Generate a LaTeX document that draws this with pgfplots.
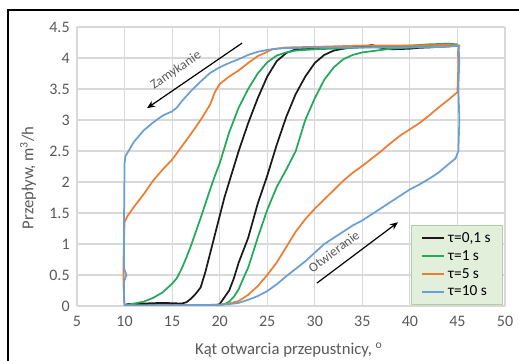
\documentclass[border=0pt]{standalone}
\usepackage{fontspec}
\setmainfont{Carlito}
\usepackage{pgfplots}
\pgfplotsset{compat=1.18}
\usetikzlibrary{arrows.meta}
\definecolor{cblack}{HTML}{1A1A1A}
\definecolor{cgreen}{HTML}{22A95A}
\definecolor{corange}{HTML}{ED7D31}
\definecolor{cblue}{HTML}{6A9FD6}
\definecolor{legfill}{HTML}{E2EFDA}
\definecolor{legdraw}{HTML}{B5CCA8}
\definecolor{ticktext}{HTML}{595959}
\definecolor{gridc}{HTML}{D9D9D9}
\begin{document}
\begin{tikzpicture}
\path[use as bounding box] (-57.75pt,-41.25pt) rectangle (331.5pt,229.5pt);
\draw[line width=0.8pt] (-51.75pt,-41.25pt) -- (-51.75pt,222pt) -- (331.5pt,222pt);
\begin{axis}[
  scale only axis, width=321pt, height=209.25pt,
  xmin=5, xmax=50, ymin=0, ymax=4.5,
  xtick={5,10,15,20,25,30,35,40,45,50},
  ytick={0,0.5,1,1.5,2,2.5,3,3.5,4,4.5},
  yticklabels={0,0.5,1,1.5,2,2.5,3,3.5,4,4.5},
  grid=major, major grid style={draw=gridc, line width=0.8pt},
  axis line style={draw=none}, tick style={draw=none},
  /pgf/number format/assume math mode=true,
  tick label style={font=\fontsize{12}{14}\selectfont, text=ticktext},
  xticklabel style={yshift=-4pt},
  yticklabel style={xshift=-2pt},
  xlabel={Kąt otwarcia przepustnicy, \textsuperscript{o}},
  ylabel={Przepływ, m\textsuperscript{3}/h},
  label style={font=\fontsize{12.5}{14}\selectfont, text=ticktext},
  xlabel style={at={(axis description cs:0.495,0)}, anchor=center, yshift=-33pt},
  ylabel style={at={(axis description cs:0,0.459)}, anchor=center, yshift=36.75pt},
  legend style={at={(axis description cs:0.995,0.004)}, anchor=south east,
    fill=legfill, draw=legdraw, font=\fontsize{11.5}{13}\selectfont,
    inner xsep=7pt, inner ysep=3pt, row sep=0.5pt, cells={anchor=west}},
  legend image code/.code={\draw[#1, line width=1.6pt] (0pt,0pt) -- (17pt,0pt);},
  every axis plot/.append style={line width=1.3pt, mark=none},
]
% tau = 0.1 s
\addplot[cblack] coordinates {
(10,0.01)(14,0.01)(18,0.01)(19.5,0.01)(20,0.03)(21,0.25)(21.5,0.45)(22,0.7)(23,1.1)(24,1.65)(25,2.1)(26,2.6)(27,3.05)(28,3.42)(29,3.7)(30,3.92)(31,4.05)(32,4.12)(33,4.15)(34,4.17)(35,4.18)(36,4.21)(37,4.17)(38,4.15)(40,4.16)(42,4.17)(44,4.19)(45,4.2)
(44,4.2)(42,4.18)(40,4.15)(38,4.14)(36,4.19)(35,4.18)(33,4.17)(30,4.15)(28,4.14)(27,4.08)(26,3.95)(25,3.7)(24,3.35)(23,2.95)(22,2.5)(21.5,2.25)(21,2.0)(20.5,1.75)(20,1.45)(19.5,1.15)(19,0.85)(18.5,0.55)(18,0.3)(17.5,0.2)(17,0.12)(16.5,0.06)(16,0.04)(14,0.05)(12,0.04)(10.3,0.03)(10,0.01)
};
% tau = 1 s
\addplot[cgreen] coordinates {
(10,0.01)(15,0.01)(19.8,0.01)(20.5,0.03)(21,0.07)(21.5,0.15)(22,0.27)(22.5,0.45)(23,0.62)(24,1.1)(25,1.55)(26,1.92)(27,2.2)(28,2.5)(29,3.0)(30,3.35)(31,3.65)(32,3.85)(33,3.98)(34,4.05)(35,4.09)(36,4.11)(38,4.15)(40,4.17)(43,4.2)(45,4.22)
(44,4.23)(42,4.22)(40,4.2)(35,4.17)(30,4.14)(28,4.12)(27,4.09)(26,4.04)(25,3.93)(24,3.75)(23,3.5)(22,3.2)(21,2.8)(20,2.3)(19.5,2.1)(19,1.88)(18.5,1.65)(18,1.42)(17.5,1.2)(17,0.98)(16.5,0.78)(16,0.6)(15.5,0.45)(15,0.36)(14,0.22)(13,0.13)(12,0.07)(11,0.04)(10.2,0.02)(10,0.01)
};
% tau = 5 s
\addplot[corange] coordinates {
(10,0.01)(15,0.01)(20,0.02)(21,0.04)(22,0.08)(23,0.18)(24,0.32)(25,0.5)(26,0.7)(27,0.95)(28,1.2)(29,1.4)(30,1.57)(31,1.72)(32,1.87)(33,2.02)(34,2.15)(35,2.26)(36,2.38)(37,2.5)(38,2.63)(39,2.75)(40,2.85)(41,2.95)(42,3.07)(43,3.2)(44,3.32)(45,3.45)(45.1,3.9)(45.05,4.1)(45.2,4.2)
(44,4.21)(40,4.2)(35,4.2)(30,4.18)(27,4.17)(25.5,4.14)(25,4.1)(24,4.03)(23,3.92)(22,3.8)(21,3.7)(20,3.58)(19.5,3.45)(19,3.25)(18,3.0)(17,2.78)(16,2.57)(15,2.36)(14,2.2)(13,2.02)(12,1.8)(11,1.6)(10.3,1.45)(10,1.35)(9.9,0.8)(9.9,0.3)(10,0.01)
};
% tau = 10 s
\addplot[cblue] coordinates {
(10,0.01)(15,0.01)(20,0.02)(21,0.03)(22,0.05)(23,0.1)(24,0.16)(25,0.24)(26,0.35)(27,0.48)(28,0.6)(29,0.72)(30,0.86)(31,1.0)(32,1.1)(33,1.2)(34,1.3)(35,1.38)(36,1.48)(37,1.58)(38,1.68)(39,1.78)(40,1.88)(41,1.96)(42,2.05)(43,2.15)(44,2.28)(44.8,2.38)(45.1,2.5)(45.2,3.0)(45.1,3.5)(45.2,4.0)(45.1,4.2)
(44,4.18)(40,4.17)(35,4.17)(30,4.17)(27,4.16)(26,4.15)(25,4.13)(24,4.1)(23,4.05)(22,3.98)(21,3.92)(20,3.85)(19,3.76)(18,3.62)(17,3.47)(16,3.3)(15.5,3.2)(15,3.14)(14,3.07)(13,2.96)(12,2.83)(11,2.65)(10.5,2.52)(10.1,2.42)(10,2.3)(9.95,1.5)(9.95,0.6)(10.2,0.5)(9.95,0.4)(9.95,0.1)(10,0.01)
};
\legend{{τ=0,1 s},{τ=1 s},{τ=5 s},{τ=10 s}}
\draw[-{Stealth[length=6pt,width=5pt]}, line width=0.9pt] (axis cs:22.35,4.24) -- (axis cs:12.36,3.19);
\node[rotate=34.4, font=\fontsize{10}{12}\selectfont, text=ticktext, inner sep=0pt] at (axis cs:15.4,3.8) {Zamykanie};
\draw[-{Stealth[length=6pt,width=5pt]}, line width=0.9pt] (axis cs:30.23,0.37) -- (axis cs:38.75,1.35);
\node[rotate=37, font=\fontsize{10}{12}\selectfont, text=ticktext, inner sep=0pt] at (axis cs:32.0,0.88) {Otwieranie};
\end{axis}
\end{tikzpicture}
\end{document}
